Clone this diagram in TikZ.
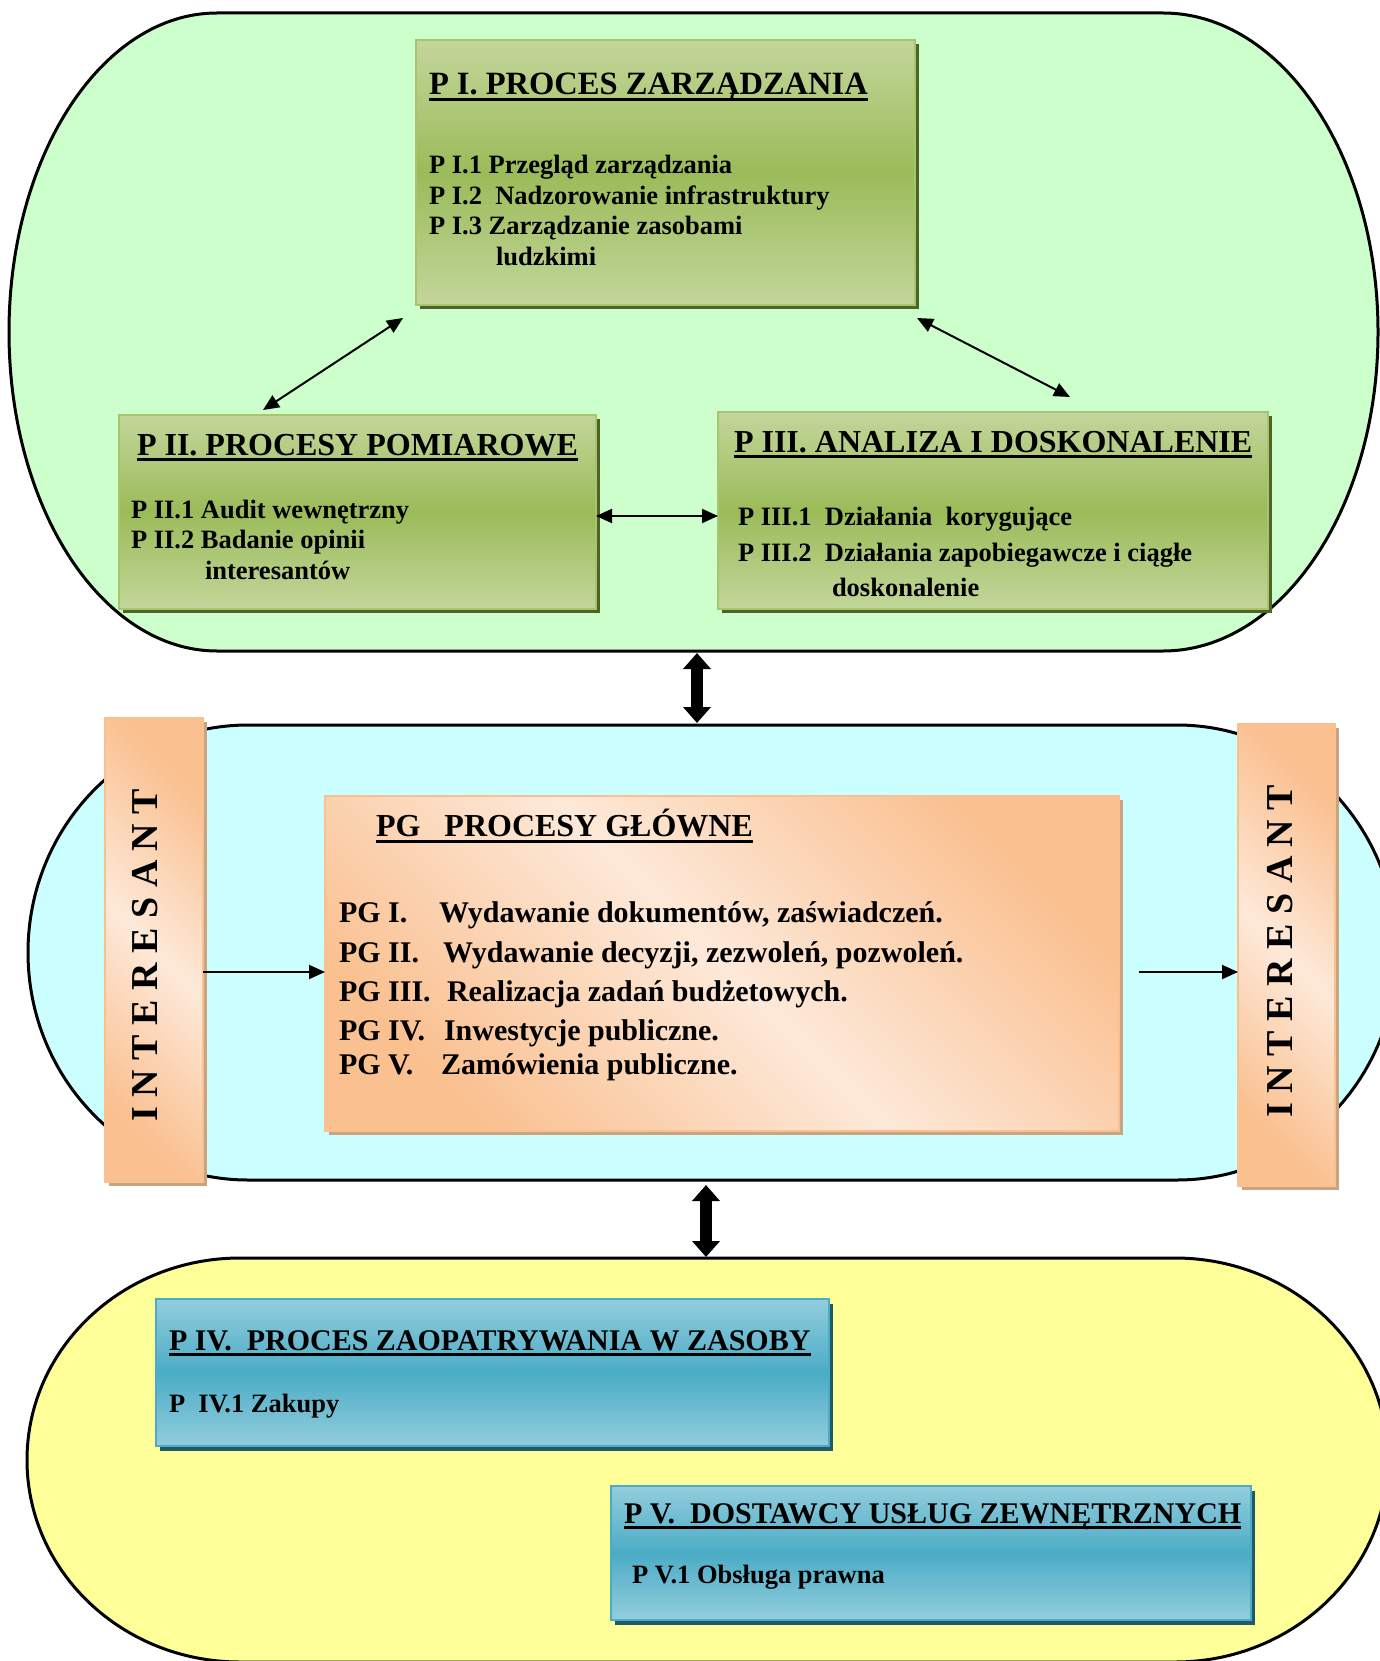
\documentclass[tikz,border=0pt]{standalone}
\usepackage{fontspec}
\setmainfont{Liberation Serif}
\usetikzlibrary{arrows.meta,shadows}
\definecolor{sGreen}{HTML}{CCFFCC}
\definecolor{sCyan}{HTML}{CCFFFF}
\definecolor{sYellow}{HTML}{FFFF99}
\definecolor{gLight}{HTML}{C3D69B}
\definecolor{gDark}{HTML}{9BBB59}
\definecolor{gEdge}{HTML}{A8C46C}
\definecolor{gShadow}{HTML}{4F6228}
\definecolor{bLight}{HTML}{93CDDD}
\definecolor{bDark}{HTML}{4BACC6}
\definecolor{bShadow}{HTML}{215968}
\definecolor{oDark}{HTML}{FAC090}
\definecolor{oLight}{HTML}{FDE9D9}
\definecolor{oShadow}{HTML}{C9A480}
\begin{document}
\begin{tikzpicture}[x=1pt,y=-1pt,
  stadium/.style={draw=black, line width=3pt},
  boxbase/.style={anchor=north west, inner sep=0pt, outer sep=0pt, line width=1.6pt},
  greenbox/.style={boxbase, draw=gEdge, top color=gLight, bottom color=gLight, middle color=gDark,
     drop shadow={fill=gShadow, opacity=1, shadow xshift=4pt, shadow yshift=-4pt}},
  bluebox/.style={boxbase, draw=bDark, top color=bLight, bottom color=bLight, middle color=bDark,
     drop shadow={fill=bShadow, opacity=1, shadow xshift=4pt, shadow yshift=-5pt}},
  orangebox/.style={boxbase, draw=oDark, top color=oDark, bottom color=oDark, middle color=oLight, shading angle=-45,
     drop shadow={fill=oShadow, opacity=1, shadow xshift=4pt, shadow yshift=-4pt}},
  ttl/.style={anchor=base west, inner sep=0pt, outer sep=0pt, font=\bfseries\fontsize{32}{38}\selectfont},
  ttlb/.style={anchor=base west, inner sep=0pt, outer sep=0pt, font=\bfseries\fontsize{30}{36}\selectfont},
  itm/.style={anchor=base west, inner sep=0pt, outer sep=0pt, font=\bfseries\fontsize{26.5}{31}\selectfont},
  pgitm/.style={anchor=base west, inner sep=0pt, outer sep=0pt, font=\bfseries\fontsize{30}{36}\selectfont},
  vtext/.style={inner sep=0pt, rotate=90, font=\bfseries\fontsize{38}{44}\selectfont},
  uline/.style={line width=3pt},
  arr/.style={line width=2pt, -{Triangle[length=16pt,width=14pt]}},
  darr/.style={line width=2pt, {Triangle[length=16pt,width=14pt]}-{Triangle[length=16pt,width=14pt]}},
  bigarr/.style={line width=12pt, {Triangle[length=16pt,width=27pt]}-{Triangle[length=16pt,width=27pt]}}
]
\useasboundingbox (0,0) rectangle (1380,1661);
\clip (0,0) rectangle (1380,1661);

% ---------- top (green) area ----------
\draw[stadium, fill=sGreen] (217,13) -- (1163,13)
  arc[start angle=90, end angle=-90, x radius=215pt, y radius=319pt] -- (217,651)
  arc[start angle=270, end angle=90, x radius=208pt, y radius=319pt] -- cycle;

\node[greenbox, minimum width=499pt, minimum height=265pt] (pI) at (416,40) {};
\node[ttl, font=\bfseries\fontsize{32.5}{38}\selectfont] (tI) at (429,95) {P I. PROCES ZARZĄDZANIA};
\draw[uline] ([yshift=-4.5pt]tI.base west) -- ([yshift=-4.5pt]tI.base east);
\node[itm] (pI1) at (429,174) {P I.1 Przegląd zarządzania};
\node[itm] (pI2) at (429,205) {P I.2\ \ Nadzorowanie infrastruktury};
\node[itm] (pI3) at (429,235) {P I.3 Zarządzanie zasobami};
\node[itm] (pI3b) at (496,266) {ludzkimi};

\node[greenbox, minimum width=477pt, minimum height=194pt] (pII) at (119,415) {};
\node[ttl] (tII) at (137,455) {P II. PROCESY POMIAROWE};
\draw[uline] ([yshift=-4.5pt]tII.base west) -- ([yshift=-4.5pt]tII.base east);
\node[itm] (pII1) at (131,518) {P II.1 Audit wewnętrzny};
\node[itm] (pII2) at (131,548) {P II.2 Badanie opinii};
\node[itm] (pII2b) at (205,579) {interesantów};

\node[greenbox, minimum width=550pt, minimum height=197pt] (pIII) at (718,412) {};
\node[ttl] (tIII) at (734,452) {P III. ANALIZA I DOSKONALENIE};
\draw[uline] ([yshift=-4.5pt]tIII.base west) -- ([yshift=-4.5pt]tIII.base east);
\node[itm] (pIII1) at (738,525) {P III.1\ \ Działania\ \ korygujące};
\node[itm] (pIII2) at (738,561) {P III.2\ \ Działania zapobiegawcze i ciągłe};
\node[itm] (pIII2b) at (832,596) {doskonalenie};

\coordinate (aIa) at (403,318);
\coordinate (aIb) at (263,410);
\coordinate (aIIa) at (917,318);
\coordinate (aIIb) at (1070,397);
\coordinate (yM) at (0,516);
\draw[darr] (aIa) -- (aIb);
\draw[darr] (aIIa) -- (aIIb);
\draw[darr] (pII.east |- yM) -- (pIII.west |- yM);

\coordinate (bA1) at (697,653);
\coordinate (bA2) at (697,723);
\draw[bigarr] (bA1) -- (bA2);

% ---------- middle (cyan) area ----------
\draw[stadium, fill=sCyan] (248,725) -- (1177,725)
  arc[start angle=90, end angle=-90, x radius=220pt, y radius=227.5pt] -- (248,1180)
  arc[start angle=270, end angle=90, x radius=220pt, y radius=227.5pt] -- cycle;

\node[orangebox, minimum width=794pt, minimum height=335pt] (pg) at (325,796) {};
\node[ttl] (tPG) at (376,836) {PG\hspace{24pt}PROCESY GŁÓWNE};
\draw[uline] ([yshift=-5pt]tPG.base west) -- ([yshift=-5pt]tPG.base east);
\node[pgitm] (pg1a) at (339,922) {PG I.};
\node[pgitm] (pg1b) at (439,922) {Wydawanie dokumentów, zaświadczeń.};
\node[pgitm] (pg2a) at (339,962) {PG II.};
\node[pgitm] (pg2b) at (443,962) {Wydawanie decyzji, zezwoleń, pozwoleń.};
\node[pgitm] (pg3a) at (339,1001) {PG III.};
\node[pgitm] (pg3b) at (447,1001) {Realizacja zadań budżetowych.};
\node[pgitm] (pg4a) at (339,1040) {PG IV.};
\node[pgitm] (pg4b) at (444,1040) {Inwestycje publiczne.};
\node[pgitm] (pg5a) at (339,1074) {PG V.};
\node[pgitm] (pg5b) at (441,1074) {Zamówienia publiczne.};

\node[orangebox, minimum width=98pt, minimum height=464pt] (intL) at (105,718) {};
\node[vtext] (tL) at (145.5,955) {I N T E R E S A N T};
\node[orangebox, minimum width=97pt, minimum height=462pt] (intR) at (1238,724) {};
\node[vtext] (tR) at (1280.5,951) {I N T E R E S A N T};

\coordinate (yA) at (0,972);
\coordinate (rS) at (1139,972);
\draw[arr] (intL.east |- yA) -- (pg.west |- yA);
\draw[arr] (rS) -- (intR.west |- yA);

\coordinate (bB1) at (706,1185);
\coordinate (bB2) at (706,1257);
\draw[bigarr] (bB1) -- (bB2);

% ---------- bottom (yellow) area ----------
\draw[stadium, fill=sYellow] (240,1258) -- (1175,1258)
  arc[start angle=90, end angle=-90, x radius=213pt, y radius=202pt] -- (240,1662)
  arc[start angle=270, end angle=90, x radius=213pt, y radius=202pt] -- cycle;

\node[bluebox, minimum width=673pt, minimum height=147pt] (pIV) at (156,1299) {};
\node[ttlb] (tIV) at (169,1350) {P IV.\ \ PROCES ZAOPATRYWANIA W ZASOBY};
\draw[uline, line width=2.7pt] ([yshift=-4.5pt]tIV.base west) -- ([yshift=-4.5pt]tIV.base east);
\node[itm] (pIV1) at (169,1412) {P\ \ IV.1 Zakupy};

\node[bluebox, minimum width=640pt, minimum height=134pt] (pV) at (611,1486) {};
\node[ttlb] (tV) at (624,1523) {P V.\ \ DOSTAWCY USŁUG ZEWNĘTRZNYCH};
\draw[uline, line width=2.7pt] ([yshift=-4.5pt]tV.base west) -- ([yshift=-4.5pt]tV.base east);
\node[itm] (pV1) at (632,1583) {P V.1 Obsługa prawna};
\end{tikzpicture}
\end{document}
